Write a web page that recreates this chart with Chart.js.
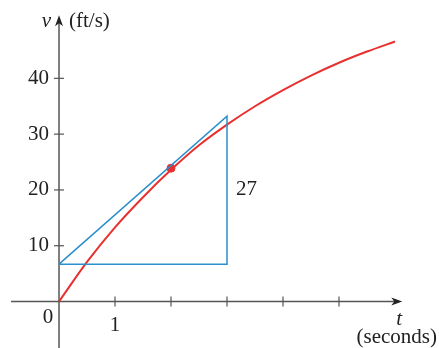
<!DOCTYPE html>
<html>
<head>
<meta charset="utf-8">
<script src="https://cdn.jsdelivr.net/npm/chart.js@4"></script>
<style>
  body { margin: 0; background: #fff; }
  #wrap { width: 439px; height: 348px; position: relative; }
</style>
</head>
<body>
<div id="wrap"><canvas id="velocityChart"></canvas></div>
<script>
// Data
const curveT = [0, 0.5, 1, 1.5, 2, 2.5, 3, 3.5, 4, 4.5, 5, 5.5, 6];
const curveV = [0, 7.1, 13.3, 18.7, 23.6, 28.0, 31.7, 35.0, 37.9, 40.5, 42.8, 44.8, 46.6];
const triangleT = [0, 3, 3, 0];
const triangleV = [6.7, 33.2, 6.7, 6.7];
const pointT = [2];
const pointV = [23.9];
const xTicks = [1, 2, 3, 4, 5];
const xTickLabels = ['1', '', '', '', ''];
const yTicks = [10, 20, 30, 40];
const yTickLabels = ['10', '20', '30', '40'];
const riseLabel = '27';

const red = '#e8312f';
const blue = '#2a8fce';
const axisColor = '#555';
const serif = '"Liberation Serif", "Times New Roman", serif';

function toPoints(xs, ys) {
    return xs.map((x, i) => ({ x: x, y: ys[i] }));
}

// Axes, arrows, ticks and labels drawn from the chart's scales
const axesPlugin = {
    id: 'axesThroughOrigin',
    beforeDatasetsDraw(chart) {
        const ctx = chart.ctx;
        const xs = chart.scales.x, ys = chart.scales.y;
        const x0 = xs.getPixelForValue(0), y0 = ys.getPixelForValue(0);
        const xEnd = xs.getPixelForValue(6.13);
        const yTop = ys.getPixelForValue(51.3);
        ctx.save();
        ctx.strokeStyle = axisColor;
        ctx.lineWidth = 1.5;
        // x axis
        ctx.beginPath();
        ctx.moveTo(xs.getPixelForValue(-0.857), y0);
        ctx.lineTo(xEnd - 4, y0);
        ctx.stroke();
        // y axis
        ctx.beginPath();
        ctx.moveTo(x0, chart.height);
        ctx.lineTo(x0, yTop + 4);
        ctx.stroke();
        // arrow heads
        ctx.fillStyle = '#222';
        ctx.beginPath();
        ctx.moveTo(xEnd, y0);
        ctx.lineTo(xEnd - 11, y0 - 4);
        ctx.lineTo(xEnd - 8, y0);
        ctx.lineTo(xEnd - 11, y0 + 4);
        ctx.closePath();
        ctx.fill();
        ctx.beginPath();
        ctx.moveTo(x0, yTop);
        ctx.lineTo(x0 - 4, yTop + 11);
        ctx.lineTo(x0, yTop + 8);
        ctx.lineTo(x0 + 4, yTop + 11);
        ctx.closePath();
        ctx.fill();
        // ticks
        ctx.lineWidth = 1.2;
        ctx.strokeStyle = axisColor;
        xTicks.forEach(t => {
            const px = xs.getPixelForValue(t);
            ctx.beginPath();
            ctx.moveTo(px, y0 - 5);
            ctx.lineTo(px, y0 + 5);
            ctx.stroke();
        });
        yTicks.forEach(v => {
            const py = ys.getPixelForValue(v);
            ctx.beginPath();
            ctx.moveTo(x0 - 5, py);
            ctx.lineTo(x0 + 5, py);
            ctx.stroke();
        });
        // tick labels
        ctx.fillStyle = '#222';
        ctx.font = '21px ' + serif;
        ctx.textBaseline = 'middle';
        ctx.textAlign = 'right';
        yTicks.forEach((v, i) => {
            ctx.fillText(yTickLabels[i], x0 - 10, ys.getPixelForValue(v));
        });
        ctx.textAlign = 'center';
        xTicks.forEach((t, i) => {
            if (xTickLabels[i]) ctx.fillText(xTickLabels[i], xs.getPixelForValue(t), y0 + 24);
        });
        ctx.fillText('0', x0 - 11, y0 + 16);
        // rise label
        ctx.textAlign = 'left';
        ctx.fillText(riseLabel, xs.getPixelForValue(3) + 9, ys.getPixelForValue(20));
        // axis titles
        ctx.font = 'italic 21px ' + serif;
        ctx.textAlign = 'right';
        ctx.fillText('v', x0 - 8, yTop + 6);
        ctx.textAlign = 'center';
        ctx.fillText('t', xEnd - 3, y0 + 18);
        ctx.font = '21px ' + serif;
        ctx.textAlign = 'left';
        ctx.fillText('(ft/s)', x0 + 10, yTop + 6);
        ctx.textAlign = 'right';
        ctx.fillText('(seconds)', 437, y0 + 36);
        ctx.restore();
    }
};

new Chart(document.getElementById('velocityChart'), {
    type: 'scatter',
    data: {
        datasets: [
            {
                data: toPoints(triangleT, triangleV),
                showLine: true,
                borderColor: blue,
                borderWidth: 1.5,
                pointRadius: 0,
                tension: 0
            },
            {
                data: toPoints(curveT, curveV),
                showLine: true,
                borderColor: red,
                borderWidth: 2,
                pointRadius: 0,
                tension: 0.4,
                cubicInterpolationMode: 'monotone'
            },
            {
                data: toPoints(pointT, pointV),
                pointRadius: 4,
                pointBackgroundColor: red,
                pointBorderColor: red
            }
        ]
    },
    options: {
        responsive: true,
        maintainAspectRatio: false,
        animation: false,
        layout: { padding: 0, autoPadding: false },
        plugins: { legend: { display: false }, tooltip: { enabled: false } },
        scales: {
            x: { type: 'linear', min: -1.054, max: 6.786, display: false },
            y: { type: 'linear', min: -8.33, max: 54.04, display: false }
        }
    },
    plugins: [axesPlugin]
});
</script>
</body>
</html>
